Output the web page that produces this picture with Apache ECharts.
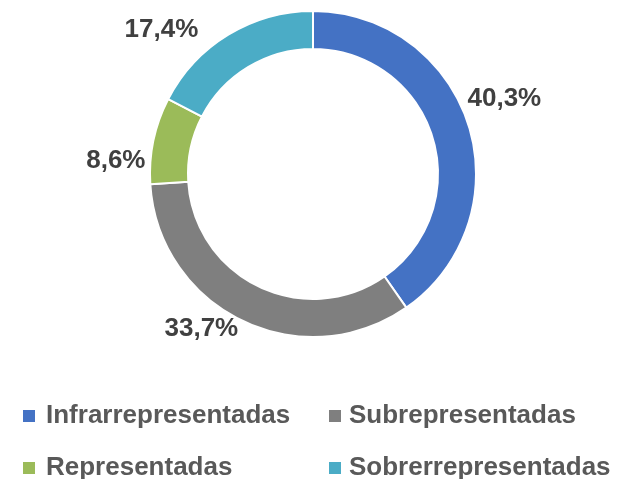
<!DOCTYPE html>
<html>
<head>
<meta charset="utf-8">
<script src="https://cdn.jsdelivr.net/npm/echarts@6/dist/echarts.min.js"></script>
<style>
  html, body { margin: 0; padding: 0; background: #fff; }
  #chart { width: 635px; height: 479px; }
</style>
</head>
<body>
<div id="chart"></div>
<script>
// categories + values (percent)
const categories = ['Infrarrepresentadas', 'Subrepresentadas', 'Representadas', 'Sobrerrepresentadas'];
const values = [40.3, 33.7, 8.6, 17.4];
const colors = ['#4472C4', '#7F7F7F', '#9BBB59', '#4BACC6'];

// small nudges so labels sit where excel put them
const labelNudge = [[-6, -26], [1, 8], [-3, 20], [-25, -5]];

const myChart = echarts.init(document.getElementById('chart'));

// one legend per entry, laid out 2x2 like the excel legend
const legendSlots = [
  { left: 21, top: 403, pad: 5 },
  { left: 327, top: 403, pad: 2 },
  { left: 21, top: 455, pad: 5 },
  { left: 327, top: 455, pad: 2 }
];

const legends = categories.map((name, i) => ({
  left: legendSlots[i].left,
  top: legendSlots[i].top,
  padding: 0,
  icon: 'rect',
  itemWidth: 14,
  itemHeight: 14,
  textStyle: {
    color: '#595959',
    fontSize: 26,
    fontWeight: 'bold',
    fontFamily: 'Liberation Sans',
    lineHeight: 24,
    padding: [0, 0, 0, legendSlots[i].pad]
  },
  data: [name]
}));

const option = {
  animation: false,
  color: colors,
  legend: legends,
  series: [
    {
      type: 'pie',
      center: [313, 174],
      radius: [125, 163],
      startAngle: 90,
      clockwise: true,
      itemStyle: {
        borderColor: '#fff',
        borderWidth: 2
      },
      label: {
        show: true,
        position: 'outside',
        formatter: (p) => p.value.toFixed(1).replace('.', ',') + '%',
        color: '#404040',
        fontSize: 26,
        fontWeight: 'bold',
        fontFamily: 'Liberation Sans'
      },
      labelLine: {
        show: false,
        length: 0,
        length2: 0
      },
      labelLayout: (params) => ({
        dx: labelNudge[params.dataIndex][0],
        dy: labelNudge[params.dataIndex][1]
      }),
      emphasis: { disabled: true },
      data: categories.map((name, i) => ({ name: name, value: values[i] }))
    }
  ]
};

myChart.setOption(option);
</script>
</body>
</html>
